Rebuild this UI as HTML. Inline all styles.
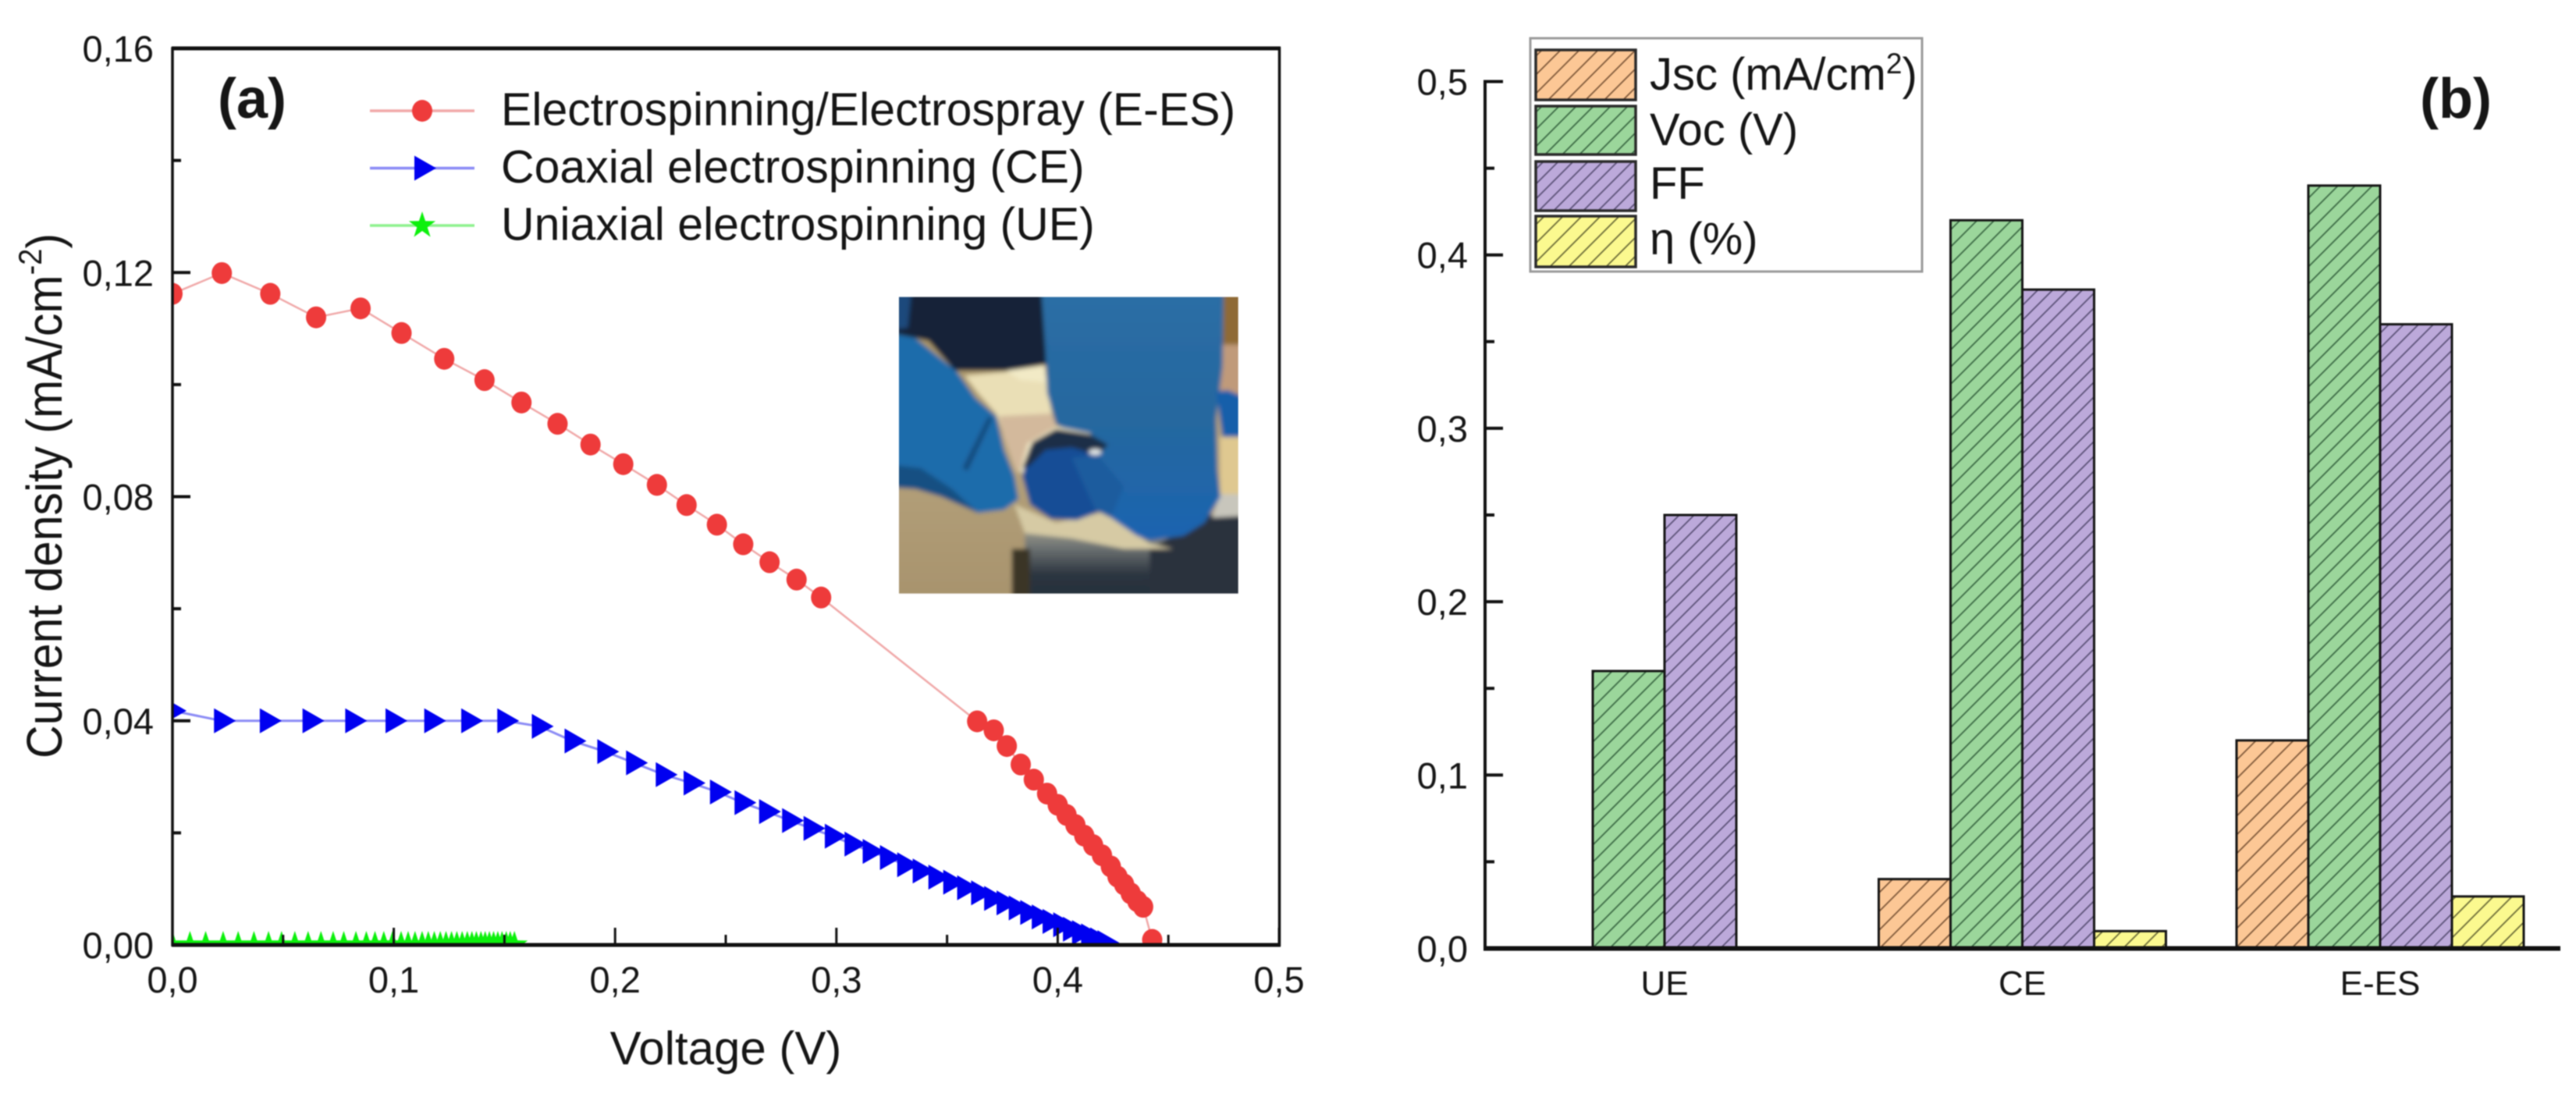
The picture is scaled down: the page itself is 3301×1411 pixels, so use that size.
<!DOCTYPE html>
<html lang="en">
<head>
<meta charset="utf-8">
<title>Current density and photovoltaic parameters</title>
<style>
html,body{margin:0;padding:0;background:#fff;}
#figure{display:block;filter:blur(0.9px);}
text{font-family:"Liberation Sans",Arial,sans-serif;fill:#161616;}
</style>
</head>
<body>
<svg id="figure" xmlns="http://www.w3.org/2000/svg" width="3301" height="1411" viewBox="0 0 3301 1411">
  <defs>
    <clipPath id="plot-a-clip"><rect x="221" y="62" width="1419" height="1149"/></clipPath>
    <clipPath id="photo-clip"><rect x="36" y="32" width="1304" height="1140"/></clipPath>
    <filter id="photo-blur" filterUnits="userSpaceOnUse" x="-100" y="-100" width="1600" height="1400"><feGaussianBlur stdDeviation="9"/></filter>
    <filter id="photo-blur-wide" filterUnits="userSpaceOnUse" x="-100" y="-100" width="1600" height="1400"><feGaussianBlur stdDeviation="26"/></filter>
    <linearGradient id="photo-dark" x1="0" y1="0" x2="0" y2="1">
      <stop offset="0" stop-color="#a9a692"/><stop offset="0.3" stop-color="#6d7272"/><stop offset="0.62" stop-color="#2c3540"/><stop offset="1" stop-color="#222c38"/>
    </linearGradient>
    <linearGradient id="photo-tan" x1="0" y1="0" x2="0" y2="1">
      <stop offset="0" stop-color="#a38d58"/><stop offset="0.5" stop-color="#b5a27c"/><stop offset="1" stop-color="#a5906a"/>
    </linearGradient>
    <linearGradient id="photo-glove-right" x1="0" y1="0" x2="0" y2="1">
      <stop offset="0" stop-color="#2c6fa6"/><stop offset="0.55" stop-color="#25679f"/><stop offset="1" stop-color="#1c64b0"/>
    </linearGradient>
    <pattern id="hatch-jsc" patternUnits="userSpaceOnUse" width="24" height="24">
      <rect width="24" height="24" fill="#fcc795"/>
      <path d="M-3,3 L3,-3 M0,24 L24,0 M21,27 L27,21" stroke="#80593a" stroke-width="1.8"/>
    </pattern>
    <pattern id="hatch-voc" patternUnits="userSpaceOnUse" width="22" height="22">
      <rect width="22" height="22" fill="#9bd69b"/>
      <path d="M-3,3 L3,-3 M0,22 L22,0 M19,25 L25,19" stroke="#3c6b45" stroke-width="1.8"/>
    </pattern>
    <pattern id="hatch-ff" patternUnits="userSpaceOnUse" width="19" height="19">
      <rect width="19" height="19" fill="#bca9da"/>
      <path d="M-3,3 L3,-3 M0,19 L19,0 M16,22 L22,16" stroke="#5c5278" stroke-width="1.8"/>
    </pattern>
    <pattern id="hatch-eta" patternUnits="userSpaceOnUse" width="24" height="24">
      <rect width="24" height="24" fill="#fbf98f"/>
      <path d="M-3,3 L3,-3 M0,24 L24,0 M21,27 L27,21" stroke="#6c6c38" stroke-width="1.8"/>
    </pattern>
  </defs>

  <g id="panel-a"></g>

  <g transform="translate(1140,370) scale(0.33333)">
    <g clip-path="url(#photo-clip)">
      <g filter="url(#photo-blur)">
        <rect x="-100" y="-100" width="1600" height="1400" fill="url(#photo-tan)"/>
        <rect x="520" y="900" width="900" height="320" fill="url(#photo-dark)"/>
        <polygon points="1230,870 1420,840 1420,1220 1000,1220 1000,1000" fill="#2a323e"/>
        <polygon points="470,1000 540,1000 540,1220 470,1220" fill="#3a3428"/>
        <polygon points="480,830 640,900 820,860 1000,980 1090,1000 900,1000 700,960 520,940" fill="#d6caa4"/>
        <polygon points="1270,-50 1420,-50 1420,220 1270,220" fill="#8f6a35"/>
        <polygon points="1270,215 1420,215 1420,430 1270,430" fill="#c09a7a"/>
        <polygon points="1270,570 1420,570 1420,800 1270,800" fill="#dfc890"/>
        <polygon points="1270,790 1420,790 1420,870 1240,880" fill="#c8c6bc"/>
        <polygon points="-50,-50 590,-50 605,290 450,315 250,315 150,200 -50,160" fill="#122238"/>
        <polygon points="-50,-50 90,-50 70,150 -50,165" fill="#1a4a7c"/>
        <polygon points="290,335 450,320 595,295 610,400 630,520 540,600 490,710 440,560 410,480 340,400" fill="#eadfb6"/>
        <polygon points="450,315 595,295 600,360 500,350" fill="#f2eac6"/>
        <polygon points="420,490 620,480 640,525 540,600 490,710 440,570" fill="#d3b99c"/>
        <polygon points="-50,160 100,190 260,320 330,420 410,490 440,620 480,720 495,810 440,850 340,862 200,800 100,770 -50,760" fill="#1d6cab"/>
        <polygon points="-50,670 120,690 240,770 340,862 200,800 100,770 -50,760" fill="#194f82"/>
        <polygon points="280,690 380,490 395,500 300,700" fill="#174a7c"/>
        <polygon points="580,-50 1285,-50 1280,300 1255,500 1260,700 1272,800 1210,900 1130,950 1000,968 950,950 850,880 790,850 780,600 640,520 605,400 600,250" fill="url(#photo-glove-right)"/>
        <polygon points="1255,395 1300,390 1420,440 1420,570 1280,570" fill="#195eaa"/>
        <polygon points="500,700 530,595 640,530 770,555 800,600 640,570 560,630 520,720" fill="#f0e6c4"/>
        <polygon points="510,720 540,610 640,545 770,570 810,650 800,860 720,890 620,885 540,830" fill="#134d96"/>
        <polygon points="510,690 550,590 640,540 770,560 840,600 800,640 700,610 600,620 540,680" fill="#1f2f46"/>
        <polygon points="700,650 800,640 900,760 850,880 790,850" fill="#1b5c9e"/>
        <ellipse cx="790" cy="628" rx="24" ry="12" fill="#e2e6e6"/>
      </g>
    </g>
  </g>

  <g id="panel-b"></g>
</svg>

<script>
// ---------- Panel (a) data ----------
const eesVoltage = [0,0.0223,0.0442,0.0649,0.0850,0.1035,0.1228,0.1410,0.1577,0.1740,0.1889,0.2037,0.2189,0.2323,0.2460,0.2579,0.2698,0.2820,0.2931,0.3636,0.3711,0.3770,0.3833,0.3892,0.3952,0.400,0.404,0.408,0.412,0.416,0.420,0.424,0.427,0.430,0.433,0.436,0.4386,0.4427];
const eesCurrent = [0.1162,0.1199,0.1162,0.1120,0.1136,0.1092,0.1046,0.1008,0.0968,0.0930,0.0893,0.0858,0.0821,0.0785,0.0750,0.0715,0.0683,0.0652,0.0620,0.0399,0.0383,0.0355,0.0322,0.0295,0.0270,0.0250,0.0232,0.0214,0.0195,0.0178,0.0160,0.0140,0.0122,0.0108,0.0092,0.0078,0.0068,0.0009];
const ceVoltage = [0,0.0223,0.0430,0.0623,0.0816,0.0998,0.1173,0.1340,0.1503,0.1659,0.1807,0.1955,0.2085,0.2219,0.2345,0.2464,0.2575,0.2686,0.2790,0.2887,0.2983,0.3072,0.3154,0.3232,0.3310,0.3380,0.3451,0.3518,0.3581,0.3644,0.3703,0.3759,0.3814,0.3866,0.3918,0.3967,0.4015,0.4059,0.4100,0.4141,0.4182,0.4215];
const ceCurrent = [0.0418,0.0400,0.0400,0.0400,0.0400,0.0400,0.0400,0.0400,0.0400,0.0390,0.0364,0.0345,0.0325,0.0304,0.0289,0.0273,0.0254,0.0238,0.0222,0.0208,0.0194,0.0180,0.0167,0.0156,0.0143,0.0132,0.0121,0.0112,0.0102,0.0093,0.0083,0.0075,0.0066,0.0058,0.0050,0.0042,0.0036,0.0028,0.0022,0.0016,0.0009,0.0004];
const ueVoltage = [0,0.0079,0.0150,0.0229,0.0297,0.0368,0.0434,0.0493,0.0553,0.0613,0.0671,0.0726,0.0774,0.0829,0.0876,0.0915,0.0955,0.0994,0.1033,0.1065,0.1096,0.1128,0.1156,0.1183,0.1210,0.1236,0.1261,0.1285,0.1309,0.1332,0.1353,0.1373,0.1394,0.1413,0.1432,0.1451,0.1470,0.1489,0.1508,0.1526,0.1545];
const ueCurrent = [0,0,0,0,0,0,0,0,0,0,0,0,0,0,0,0,0,0,0,0,0,0,0,0,0,0,0,0,0,0,0,0,0,0,0,0,0,0,0,0,0];
const voltageTicks = [0,0.1,0.2,0.3,0.4,0.5];
const voltageTickLabels = ['0,0','0,1','0,2','0,3','0,4','0,5'];
const voltageMinorTicks = [0.05,0.15,0.25,0.35,0.45];
const currentTicks = [0,0.04,0.08,0.12,0.16];
const currentTickLabels = ['0,00','0,04','0,08','0,12','0,16'];
const currentMinorTicks = [0.02,0.06,0.10,0.14];
const lineLegendLabels = ['Electrospinning/Electrospray (E-ES)','Coaxial electrospinning (CE)','Uniaxial electrospinning (UE)'];

// ---------- Panel (b) data ----------
const categories = ['UE','CE','E-ES'];
const jscValues = [0,0.04,0.12];
const vocValues = [0.16,0.42,0.44];
const ffValues = [0.25,0.38,0.36];
const etaValues = [0,0.01,0.03];
const paramTicks = [0,0.1,0.2,0.3,0.4,0.5];
const paramTickLabels = ['0,0','0,1','0,2','0,3','0,4','0,5'];
const paramMinorTicks = [0.05,0.15,0.25,0.35,0.45];

// ---------- Axis functions ----------
function xA(v){return 221+v*2836;}
function yA(c){return 1211-c*7181.25;}
function yB(v){return 1215.5-v*2222;}
function catX(i){return 2133+i*458.5;}

const NS='http://www.w3.org/2000/svg';
function make(tag,attrs,parent){
  const n=document.createElementNS(NS,tag);
  for(const k in attrs){n.setAttribute(k,attrs[k]);}
  parent.appendChild(n);
  return n;
}
function label(parent,x,y,size,anchor,str,weight){
  const t=make('text',{x:x,y:y,'font-size':size,'text-anchor':anchor,'font-weight':weight||'normal'},parent);
  t.textContent=str;
  return t;
}
function circleMark(parent,cx,cy,color){
  return make('ellipse',{cx:cx,cy:cy,rx:13,ry:14,fill:color},parent);
}
function triangleMark(parent,cx,cy,color){
  const p=[[cx-10,cy-16],[cx+18,cy],[cx-10,cy+16]].map(q=>q.join(',')).join(' ');
  return make('polygon',{points:p,fill:color},parent);
}
function starMark(parent,cx,cy,color){
  const pts=[];
  for(let k=0;k<10;k++){
    const r=k%2===0?18:7;
    const a=-Math.PI/2+k*Math.PI/5;
    pts.push((cx+r*Math.cos(a)).toFixed(1)+','+(cy+r*Math.sin(a)).toFixed(1));
  }
  return make('polygon',{points:pts.join(' '),fill:color},parent);
}
function seriesPath(xs,ys){
  return xs.map((v,i)=>xA(v).toFixed(1)+','+yA(ys[i]).toFixed(1)).join(' ');
}

// ---------- Panel (a) ----------
const panelA=document.getElementById('panel-a');
const plotA=make('g',{'clip-path':'url(#plot-a-clip)'},panelA);



const ueLine=make('polyline',{points:seriesPath(ueVoltage,ueCurrent),fill:'none',stroke:'#8df08d','stroke-width':3},plotA);


ueVoltage.forEach((v,i)=>{
  const m=starMark(plotA,xA(v),yA(ueCurrent[i]),'#0cf00c');
  
  
});

const ceLine=make('polyline',{points:seriesPath(ceVoltage,ceCurrent),fill:'none',stroke:'#8a8af5','stroke-width':3},plotA);


ceVoltage.forEach((v,i)=>{
  const m=triangleMark(plotA,xA(v),yA(ceCurrent[i]),'#0000f0');
  
  
});

const eesLine=make('polyline',{points:seriesPath(eesVoltage,eesCurrent),fill:'none',stroke:'#f0a8a8','stroke-width':2.5},plotA);


eesVoltage.forEach((v,i)=>{
  const m=circleMark(plotA,xA(v),yA(eesCurrent[i]),'#ee3b3b');
  
  
});

const frameA=make('rect',{x:221,y:62,width:1418.5,height:1149,fill:'none',stroke:'#111','stroke-width':3.5},panelA);


const topA=make('line',{x1:220,y1:62,x2:1641,y2:62,stroke:'#111','stroke-width':5},panelA);


const bottomA=make('line',{x1:220,y1:1211,x2:1641,y2:1211,stroke:'#111','stroke-width':5},panelA);



voltageTicks.forEach((v,i)=>{
  const tick=make('line',{x1:xA(v),y1:1211,x2:xA(v),y2:1189,stroke:'#111','stroke-width':3},panelA);
  
  
  const t=label(panelA,xA(v),1272,47,'middle',voltageTickLabels[i]);
  
  
});
voltageMinorTicks.forEach(v=>{
  const tick=make('line',{x1:xA(v),y1:1211,x2:xA(v),y2:1198,stroke:'#111','stroke-width':3},panelA);
  
  
});
currentTicks.forEach((c,i)=>{
  const tick=make('line',{x1:221,y1:yA(c),x2:244,y2:yA(c),stroke:'#111','stroke-width':4},panelA);
  
  
  const t=label(panelA,197,yA(c)+17,47,'end',currentTickLabels[i]);
  
  
});
currentMinorTicks.forEach(c=>{
  const tick=make('line',{x1:221,y1:yA(c),x2:232,y2:yA(c),stroke:'#111','stroke-width':4},panelA);
  
  
});

const xTitleA=label(panelA,930,1364,60,'middle','Voltage (V)');



const yTitleA=make('text',{transform:'translate(79,972) rotate(-90) scale(1,1.09)','font-size':59},panelA);


const yMain=make('tspan',{},yTitleA);
yMain.textContent='Current density (mA/cm';
const ySup=make('tspan',{'font-size':38,dy:-24},yTitleA);
ySup.textContent='-2';
const yEnd=make('tspan',{dy:24},yTitleA);
yEnd.textContent=')';

const tagA=label(panelA,279,151,72,'start','(a)','bold');



const lineLegendColors=['#f0a8a8','#8a8af5','#8df08d'];
const lineLegendMarks=[circleMark,triangleMark,starMark];
const lineLegendFills=['#ee3b3b','#0000f0','#0cf00c'];
lineLegendLabels.forEach((s,i)=>{
  const cy=142+73.5*i;
  const g=make('g',{},panelA);
  
  
  const l=make('line',{x1:474,y1:cy,x2:608,y2:cy,stroke:lineLegendColors[i],'stroke-width':3.5},g);
  
  
  const m=lineLegendMarks[i](g,541,cy,lineLegendFills[i]);
  
  
  const t=label(g,642,cy+18.5,59,'start',s);
  
  
});

// ---------- Panel (b) ----------
const panelB=document.getElementById('panel-b');
const barWidth=92;
const paramSeries=[jscValues,vocValues,ffValues,etaValues];
const seriesNames=['jsc','voc','ff','eta'];
paramSeries.forEach((vals,j)=>{
  vals.forEach((v,i)=>{
    const bar=make('rect',{x:catX(i)+(j-2)*barWidth,y:yB(v),width:barWidth,height:yB(0)-yB(v),fill:'url(#hatch-'+seriesNames[j]+')',stroke:'#151515','stroke-width':3},panelB);
    
    
  });
});

const leftB=make('line',{x1:1903,y1:yB(0.5)-2,x2:1903,y2:yB(0)+2,stroke:'#111','stroke-width':4},panelB);


const bottomB=make('line',{x1:1901,y1:yB(0),x2:3281,y2:yB(0),stroke:'#111','stroke-width':6},panelB);



paramTicks.forEach((v,i)=>{
  const tick=make('line',{x1:1903,y1:yB(v),x2:1926,y2:yB(v),stroke:'#111','stroke-width':4},panelB);
  
  
  const t=label(panelB,1881,yB(v)+17,47,'end',paramTickLabels[i]);
  
  
});
paramMinorTicks.forEach(v=>{
  const tick=make('line',{x1:1903,y1:yB(v),x2:1915,y2:yB(v),stroke:'#111','stroke-width':4},panelB);
  
  
});
categories.forEach((c,i)=>{
  const t=label(panelB,catX(i),1275,44,'middle',c);
  
  
});

const tagB=label(panelB,3101,151,72,'start','(b)','bold');



const legendB=make('g',{},panelB);


const legendBox=make('rect',{x:1961,y:49,width:502,height:299,fill:'#fff',stroke:'#9a9a9a','stroke-width':3},legendB);



const swatchTops=[64,136,207,277];
const swatchHeights=[64,62,63,65];
const legendBaselines=[115,186,255,326];
seriesNames.forEach((name,j)=>{
  const sw=make('rect',{x:1968,y:swatchTops[j],width:128,height:swatchHeights[j],fill:'url(#hatch-'+name+')',stroke:'#2a2a2a','stroke-width':3.5},legendB);
  
  
});
const jscLabel=make('text',{x:2114,y:legendBaselines[0],'font-size':58},legendB);


const jscMain=make('tspan',{},jscLabel);
jscMain.textContent='Jsc (mA/cm';
const jscSup=make('tspan',{'font-size':37,dy:-21},jscLabel);
jscSup.textContent='2';
const jscEnd=make('tspan',{dy:21},jscLabel);
jscEnd.textContent=')';
const vocLabel=label(legendB,2114,legendBaselines[1],58,'start','Voc (V)');


const ffLabel=label(legendB,2114,legendBaselines[2],58,'start','FF');


const etaLabel=label(legendB,2114,legendBaselines[3],58,'start','η (%)');


</script>
</body>
</html>
